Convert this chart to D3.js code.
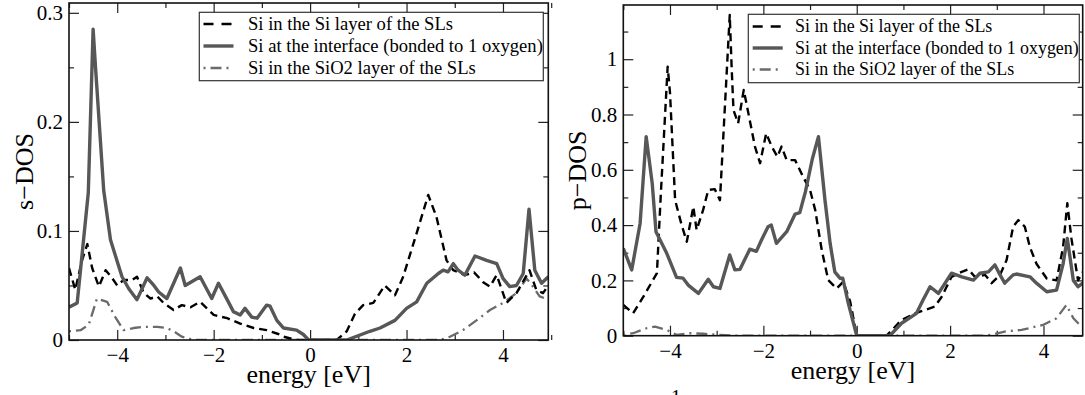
<!DOCTYPE html>
<html>
<head>
<meta charset="utf-8">
<script src="https://cdn.jsdelivr.net/npm/d3@7"></script>
<style>
    body { margin: 0; background: #fff; }
</style>
</head>
<body>
<script>
const W = 1085, H = 395;
const FONT = '"Liberation Serif", "Times New Roman", serif';

// [energy (eV), DOS]
const sDosSiLayer = [
    [-5, 0.066], [-4.87, 0.046], [-4.73, 0.073], [-4.62, 0.088], [-4.52, 0.066], [-4.38, 0.049],
    [-4.24, 0.064], [-4.1, 0.0565], [-4.0, 0.050], [-3.87, 0.055], [-3.69, 0.055], [-3.59, 0.058],
    [-3.45, 0.043], [-3.31, 0.038], [-3.17, 0.040], [-3.04, 0.034], [-2.83, 0.0275], [-2.66, 0.032],
    [-2.48, 0.030], [-2.28, 0.035], [-2.14, 0.029], [-2.0, 0.023], [-1.72, 0.020], [-1.45, 0.015],
    [-1.17, 0.011], [-0.9, 0.009], [-0.66, 0.0055], [-0.55, 0.003], [-0.28, 0], [0.55, 0],
    [0.76, 0.008], [0.93, 0.024], [1.1, 0.032], [1.31, 0.034], [1.55, 0.050], [1.76, 0.041],
    [1.93, 0.058], [2.21, 0.098], [2.45, 0.133], [2.62, 0.113], [2.83, 0.073], [2.97, 0.064],
    [3.21, 0.0595], [3.4, 0.062], [3.59, 0.053], [3.73, 0.049], [3.87, 0.0595], [4.07, 0.034],
    [4.28, 0.043], [4.55, 0.064], [4.69, 0.046], [4.83, 0.043], [4.94, 0.050]
];
const sDosInterface = [
    [-5, 0.030], [-4.83, 0.034], [-4.6, 0.135], [-4.5, 0.285], [-4.45, 0.25], [-4.28, 0.137],
    [-4.14, 0.092], [-4.0, 0.072], [-3.9, 0.058], [-3.76, 0.047], [-3.59, 0.037], [-3.38, 0.057],
    [-3.24, 0.050], [-3.14, 0.044], [-2.97, 0.038], [-2.69, 0.066], [-2.59, 0.050], [-2.28, 0.058],
    [-2.04, 0.038], [-1.9, 0.052], [-1.72, 0.037], [-1.59, 0.026], [-1.45, 0.023], [-1.35, 0.029],
    [-1.21, 0.021], [-1.1, 0.020], [-0.9, 0.032], [-0.83, 0.031], [-0.69, 0.018], [-0.55, 0.011],
    [-0.28, 0.009], [-0.14, 0.005], [-0.03, 0], [0.76, 0], [1.24, 0.008], [1.45, 0.011],
    [1.76, 0.018], [2.0, 0.029], [2.21, 0.035], [2.42, 0.052], [2.66, 0.061], [2.76, 0.064],
    [2.86, 0.0625], [2.97, 0.070], [3.07, 0.064], [3.21, 0.0595], [3.42, 0.077], [3.66, 0.073],
    [3.87, 0.070], [4.0, 0.0565], [4.14, 0.049], [4.28, 0.050], [4.42, 0.061], [4.54, 0.120],
    [4.66, 0.064], [4.8, 0.052], [4.94, 0.058]
];
const sDosSiO2 = [
    [-5, 0.008], [-4.76, 0.009], [-4.59, 0.014], [-4.42, 0.038], [-4.21, 0.035], [-4.04, 0.021],
    [-3.87, 0.009], [-3.66, 0.011], [-3.45, 0.012], [-3.17, 0.012], [-2.97, 0.011], [-2.83, 0.008],
    [-2.66, 0.003], [-2.41, 0], [2.7, 0], [2.9, 0.003], [3.17, 0.009], [3.45, 0.018], [3.73, 0.0275],
    [4.0, 0.034], [4.28, 0.043], [4.49, 0.0565], [4.62, 0.049], [4.76, 0.040], [4.94, 0.037]
];

const pDosSiLayer = [
    [-5, 0.111], [-4.79, 0.081], [-4.57, 0.141], [-4.28, 0.226], [-4.2, 0.5], [-4.05, 0.973],
    [-4.0, 0.88], [-3.89, 0.49], [-3.75, 0.40], [-3.64, 0.34], [-3.5, 0.467], [-3.43, 0.382],
    [-3.29, 0.455], [-3.18, 0.527], [-3.04, 0.53], [-2.93, 0.49], [-2.72, 1.16], [-2.68, 0.973],
    [-2.64, 0.816], [-2.54, 0.768], [-2.42, 0.889], [-2.32, 0.804], [-2.18, 0.684], [-2.07, 0.624],
    [-1.94, 0.732], [-1.82, 0.684], [-1.7, 0.647], [-1.61, 0.684], [-1.5, 0.635], [-1.32, 0.635],
    [-1.15, 0.575], [-1.0, 0.527], [-0.89, 0.455], [-0.75, 0.31], [-0.61, 0.201], [-0.43, 0.171],
    [-0.29, 0.195], [-0.14, 0.123], [0, 0], [0.64, 0], [0.96, 0.057], [1.25, 0.081], [1.46, 0.093],
    [1.67, 0.105], [1.82, 0.141], [2.03, 0.213], [2.25, 0.231], [2.39, 0.24], [2.53, 0.213],
    [2.75, 0.22], [2.89, 0.19], [3.07, 0.22], [3.21, 0.274], [3.35, 0.394], [3.46, 0.418],
    [3.6, 0.394], [3.71, 0.32], [3.85, 0.26], [4.07, 0.207], [4.28, 0.20], [4.42, 0.32],
    [4.51, 0.479], [4.6, 0.35], [4.74, 0.20], [4.84, 0.23]
];
const pDosInterface = [
    [-5, 0.316], [-4.82, 0.238], [-4.64, 0.406], [-4.51, 0.72], [-4.38, 0.55], [-4.3, 0.376],
    [-4.07, 0.298], [-3.86, 0.211], [-3.72, 0.208], [-3.61, 0.183], [-3.39, 0.153], [-3.18, 0.204],
    [-3.07, 0.177], [-2.93, 0.171], [-2.72, 0.292], [-2.61, 0.238], [-2.5, 0.24], [-2.29, 0.313],
    [-2.15, 0.305], [-2.04, 0.346], [-1.9, 0.394], [-1.83, 0.40], [-1.72, 0.334], [-1.5, 0.376],
    [-1.32, 0.44], [-1.22, 0.445], [-1.1, 0.52], [-0.95, 0.64], [-0.82, 0.72], [-0.68, 0.49],
    [-0.57, 0.334], [-0.47, 0.231], [-0.36, 0.208], [-0.3, 0.208], [-0.18, 0.117], [0, 0],
    [0.71, 0], [0.96, 0.045], [1.28, 0.081], [1.42, 0.129], [1.57, 0.177], [1.75, 0.153],
    [2.03, 0.226], [2.25, 0.213], [2.5, 0.201], [2.64, 0.226], [2.82, 0.231], [2.96, 0.256],
    [3.07, 0.22], [3.17, 0.19], [3.35, 0.22], [3.42, 0.223], [3.71, 0.213], [3.85, 0.19],
    [4.07, 0.159], [4.28, 0.165], [4.42, 0.26], [4.51, 0.352], [4.64, 0.20], [4.74, 0.177],
    [4.84, 0.19]
];
const pDosSiO2 = [
    [-5, 0.003], [-4.79, 0.009], [-4.5, 0.027], [-4.32, 0.033], [-4.07, 0.021], [-3.86, 0.003],
    [-3.57, 0.009], [-3.29, 0.007], [-2.93, 0.003], [-2.6, 0], [2.7, 0], [2.89, 0.003],
    [3.17, 0.015], [3.53, 0.021], [3.99, 0.039], [4.28, 0.063], [4.49, 0.111], [4.64, 0.063],
    [4.78, 0.039], [4.84, 0.033]
];

const legendLabels = [
    'Si in the Si layer of the SLs',
    'Si at the interface (bonded to 1 oxygen)',
    'Si in the SiO2 layer of the SLs'
];
const xMajorTicks = [-4, -2, 0, 2, 4];
const xMinorTicks = [-5, -3, -1, 1, 3, 5];
const sMajorTicks = [0, 0.1, 0.2, 0.3];
const sMinorTicks = [0.05, 0.15, 0.25];
const pMajorTicks = [0, 0.2, 0.4, 0.6, 0.8, 1];
const pMinorTicks = [0.1, 0.3, 0.5, 0.7, 0.9, 1.1];

const lineStyles = [
    { color: '#000', width: 2.4, dash: '8,5' },
    { color: '#575757', width: 3.4, dash: null },
    { color: '#6a6a6a', width: 2.3, dash: '2,5,11,5' }
];

const svg = d3.select('body')
    .append('svg')
    .attr('width', W)
    .attr('height', H)
    .style('font-family', FONT);

const panels = [
    {
        id: 's', left: 69, right: 548.3, top: 3, bottom: 340,
        xDomain: [-5, 4.94], yDomain: [0, 0.309],
        yMajor: sMajorTicks, yMinor: sMinorTicks,
        series: [sDosSiLayer, sDosInterface, sDosSiO2],
        yLabel: 's\u2212DOS', yLabelX: 33,
        legend: { x: 199.3, y: 12.3, w: 344, h: 68.4, rows: [24, 46, 68], lineX: 203.5, textX: 248, size: 18.6 }
    },
    {
        id: 'p', left: 623.3, right: 1082.7, top: 5, bottom: 335.7,
        xDomain: [-5, 4.84], yDomain: [0, 1.196],
        yMajor: pMajorTicks, yMinor: pMinorTicks,
        series: [pDosSiLayer, pDosInterface, pDosSiO2],
        yLabel: 'p\u2212DOS', yLabelX: 586,
        legend: { x: 748.3, y: 14.3, w: 331, h: 68.4, rows: [26.5, 48, 69.5], lineX: 752.7, textX: 795, size: 17.9 }
    }
];

panels.forEach(drawPanel);

// footnote mark cut off at the bottom edge of the figure
svg.append('text')
    .attr('x', 676)
    .attr('y', 404)
    .attr('text-anchor', 'middle')
    .style('font-family', FONT)
    .style('font-size', '20px')
    .text('1');

function drawPanel(p) {
    const x = d3.scaleLinear().domain(p.xDomain).range([p.left, p.right]);
    const y = d3.scaleLinear().domain(p.yDomain).range([p.bottom, p.top]);
    const g = svg.append('g').attr('class', 'panel-' + p.id);
    const fmt = d3.format('~g');

    g.append('clipPath')
        .attr('id', 'clip-' + p.id)
        .append('rect')
        .attr('x', p.left)
        .attr('y', p.top)
        .attr('width', p.right - p.left)
        .attr('height', p.bottom - p.top);

    // ticks on all four sides, pointing inwards
    const tickAxes = [
        { axis: d3.axisBottom(x), tr: `translate(0,${p.bottom})`, major: xMajorTicks, minor: xMinorTicks, lab: true },
        { axis: d3.axisTop(x), tr: `translate(0,${p.top})`, major: xMajorTicks, minor: xMinorTicks, lab: false },
        { axis: d3.axisLeft(y), tr: `translate(${p.left},0)`, major: p.yMajor, minor: p.yMinor, lab: true },
        { axis: d3.axisRight(y), tr: `translate(${p.right},0)`, major: p.yMajor, minor: p.yMinor, lab: false }
    ];
    tickAxes.forEach((a, i) => {
        const isX = i < 2;
        g.append('g')
            .attr('class', 'axis')
            .attr('transform', a.tr)
            .call(a.axis.tickValues(a.major).tickSize(-10).tickPadding(isX ? 7 : 6)
                .tickFormat(a.lab ? fmt : ''))
            .call(s => s.select('.domain').remove())
            .call(s => s.selectAll('line').attr('stroke', '#222').attr('stroke-width', 1.2))
            .call(s => s.selectAll('text')
                .style('font-family', FONT)
                .style('font-size', '21px')
                .attr('fill', '#000'));
        g.append('g')
            .attr('class', 'axis minor')
            .attr('transform', a.tr)
            .call(a.axis.tickValues(a.minor).tickSize(-5).tickFormat(''))
            .call(s => s.select('.domain').remove())
            .call(s => s.selectAll('line').attr('stroke', '#222').attr('stroke-width', 1.2));
    });

    const line = d3.line()
        .x(d => x(d[0]))
        .y(d => y(d[1]));

    // SiO2 first, then Si layer, interface on top
    [2, 0, 1].forEach(k => {
        g.append('path')
            .datum(p.series[k])
            .attr('clip-path', `url(#clip-${p.id})`)
            .attr('fill', 'none')
            .attr('stroke', lineStyles[k].color)
            .attr('stroke-width', lineStyles[k].width)
            .attr('stroke-linejoin', 'round')
            .attr('stroke-dasharray', lineStyles[k].dash)
            .attr('d', line);
    });

    g.append('rect')
        .attr('x', p.left)
        .attr('y', p.top)
        .attr('width', p.right - p.left)
        .attr('height', p.bottom - p.top)
        .attr('fill', 'none')
        .attr('stroke', '#111')
        .attr('stroke-width', 1.6);

    // legend
    const L = p.legend;
    g.append('rect')
        .attr('x', L.x)
        .attr('y', L.y)
        .attr('width', L.w)
        .attr('height', L.h)
        .attr('fill', '#fff')
        .attr('stroke', '#333')
        .attr('stroke-width', 1.2);
    legendLabels.forEach((lab, k) => {
        g.append('line')
            .attr('x1', L.lineX)
            .attr('x2', L.lineX + 30)
            .attr('y1', L.rows[k])
            .attr('y2', L.rows[k])
            .attr('stroke', lineStyles[k].color)
            .attr('stroke-width', lineStyles[k].width)
            .attr('stroke-dasharray', k === 0 ? '10,8' : lineStyles[k].dash);
        g.append('text')
            .attr('x', L.textX)
            .attr('y', L.rows[k])
            .attr('dy', '0.33em')
            .style('font-family', FONT)
            .style('font-size', L.size + 'px')
            .text(lab);
    });

    // axis titles
    g.append('text')
        .attr('x', (p.left + p.right) / 2)
        .attr('y', p.bottom + 43)
        .attr('text-anchor', 'middle')
        .style('font-family', FONT)
        .style('font-size', '26px')
        .text('energy [eV]');

    g.append('text')
        .attr('transform', `translate(${p.yLabelX},${(p.top + p.bottom) / 2}) rotate(-90)`)
        .attr('text-anchor', 'middle')
        .style('font-family', FONT)
        .style('font-size', '26px')
        .text(p.yLabel);
}
</script>
</body>
</html>
